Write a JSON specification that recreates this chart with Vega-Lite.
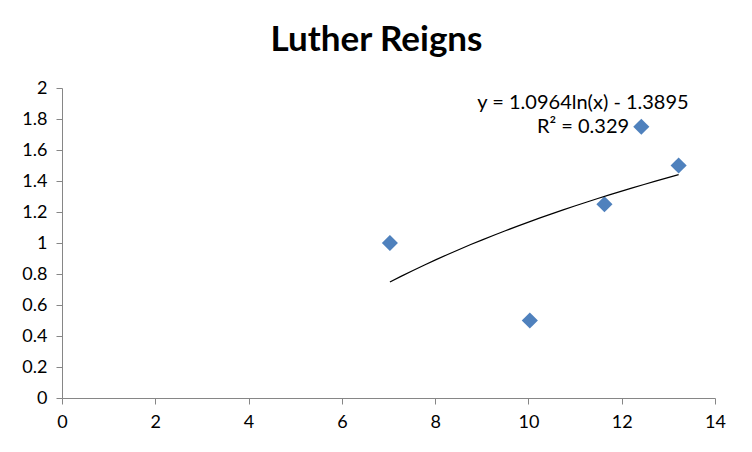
{
  "$schema": "https://vega.github.io/schema/vega-lite/v6.json",
  "width": 653,
  "height": 310,
  "autosize": {"type": "none"},
  "padding": {"left": 62, "top": 88, "right": 37, "bottom": 54},
  "background": "white",
  "config": {"view": {"stroke": null}, "font": "Lato",
    "axis": {"title": null, "grid": false, "domainColor": "#868686", "tickColor": "#868686", "tickSize": 6, "labelFont": "Lato", "labelFontSize": 18, "labelColor": "#000000", "labelFlush": false, "labelOverlap": false},
    "axisX": {"labelPadding": 9},
    "axisY": {"labelPadding": 9}
  },
  "title": {"text": "Luther Reigns", "font": "Lato", "fontSize": 35, "fontWeight": "bold", "color": "#000000", "anchor": "middle", "dx": -12, "offset": 21},
  "data": {"values": [
    {"x": 7.03, "y": 1.0},
    {"x": 10.03, "y": 0.5},
    {"x": 11.63, "y": 1.25},
    {"x": 12.42, "y": 1.75},
    {"x": 13.22, "y": 1.5}
  ]},
  "layer": [
    {
      "mark": {"type": "point", "shape": "diamond", "filled": true, "color": "#4F81BD", "size": 260, "opacity": 1},
      "encoding": {
        "x": {"field": "x", "type": "quantitative", "scale": {"domain": [0, 14], "nice": false},
          "axis": {"title": null, "values": [0,2,4,6,8,10,12,14]}},
        "y": {"field": "y", "type": "quantitative", "scale": {"domain": [0, 2], "nice": false},
          "axis": {"title": null, "values": [0,0.2,0.4,0.6,0.8,1,1.2,1.4,1.6,1.8,2], "format": "~g"}}
      }
    },
    {
      "transform": [{"regression": "y", "on": "x", "method": "log"}],
      "mark": {"type": "line", "color": "#000000", "strokeWidth": 1.2},
      "encoding": {
        "x": {"field": "x", "type": "quantitative",
          "axis": {"title": null, "values": [0,2,4,6,8,10,12,14]}},
        "y": {"field": "y", "type": "quantitative",
          "axis": {"title": null, "values": [0,0.2,0.4,0.6,0.8,1,1.2,1.4,1.6,1.8,2], "format": "~g"}}
      }
    },
    {
      "data": {"values": [{"label": "eq"}]},
      "mark": {"type": "text", "font": "Lato", "fontSize": 20, "fontWeight": "normal", "color": "#000000", "align": "center", "baseline": "middle", "lineHeight": 24},
      "encoding": {
        "x": {"datum": 11.17, "type": "quantitative",
          "axis": {"title": null, "values": [0,2,4,6,8,10,12,14]}},
        "y": {"datum": 1.903, "type": "quantitative",
          "axis": {"title": null, "values": [0,0.2,0.4,0.6,0.8,1,1.2,1.4,1.6,1.8,2], "format": "~g"}},
        "text": {"value": ["y = 1.0964ln(x) - 1.3895", "R² = 0.329"]}
      }
    }
  ]
}
